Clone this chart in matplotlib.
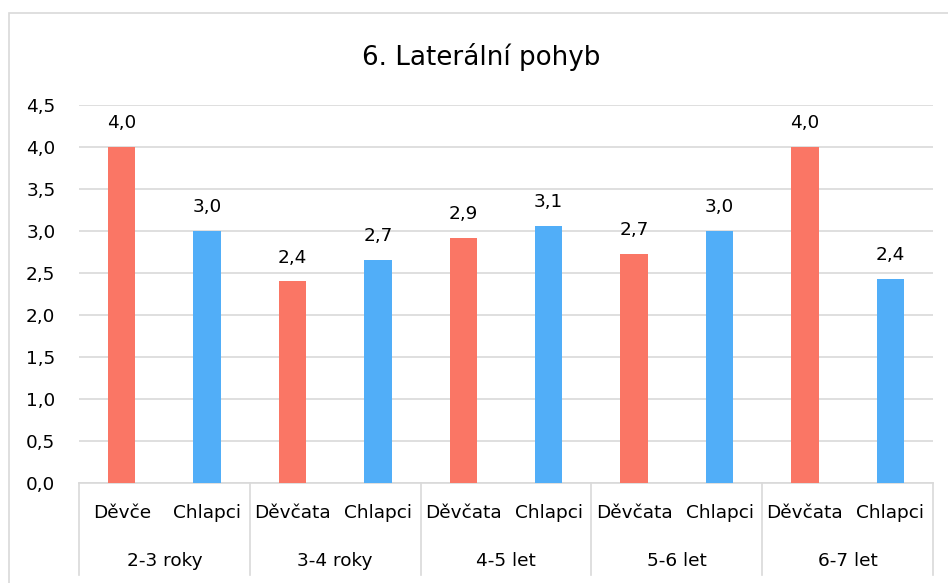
import matplotlib.pyplot as plt
import numpy as np
from matplotlib.patches import Rectangle
from matplotlib.ticker import FuncFormatter

plt.rcParams['font.family'] = ['DejaVu Sans']

# data
groups = ['2-3 roky', '3-4 roky', '4-5 let', '5-6 let', '6-7 let']
sub_labels = ['Děvče', 'Chlapci', 'Děvčata', 'Chlapci', 'Děvčata', 'Chlapci',
              'Děvčata', 'Chlapci', 'Děvčata', 'Chlapci']
values = [4.0, 3.0, 2.40, 2.66, 2.92, 3.06, 2.73, 3.0, 4.0, 2.43]
colors = ['#FA7665', '#51AEF8'] * 5

W, H = 948, 583
fig = plt.figure(figsize=(W / 100, H / 100), dpi=100)
ax = fig.add_axes([79 / W, 1 - 483 / H, (933 - 79) / W, (483 - 105) / H])

fs = 13.3
xs = np.arange(len(values))
ax.bar(xs, values, width=0.32, color=colors, zorder=3)
ax.set_xlim(-0.5, len(values) - 0.5)
ax.set_ylim(0, 4.5)
ax.set_yticks(np.arange(0, 4.51, 0.5))
ax.yaxis.set_major_formatter(FuncFormatter(lambda v, p: ('%.1f' % v).replace('.', ',')))
ax.tick_params(axis='y', length=0, pad=17, labelsize=fs)
ax.set_xticks([])
ax.grid(axis='y', color='#D9D9D9', linewidth=1.2, zorder=0)
for s in ['top', 'right', 'left']:
    ax.spines[s].set_visible(False)
ax.spines['bottom'].set_color('#D9D9D9')
ax.spines['bottom'].set_linewidth(1.2)

# value labels
for x, v in zip(xs, values):
    ax.annotate(('%.1f' % v).replace('.', ','), xy=(x, v), xytext=(0, 17),
                textcoords='offset points', ha='center', va='center', fontsize=fs)

# two-level category axis
trans = ax.get_xaxis_transform()
for x, lab in zip(xs, sub_labels):
    ax.text(x, -0.079, lab, transform=trans, ha='center', va='center', fontsize=fs)
for i, g in enumerate(groups):
    ax.text(2 * i + 0.5, -0.206, g, transform=trans, ha='center', va='center', fontsize=fs)
for b in np.arange(-0.5, len(values), 2):
    ax.plot([b, b], [0, -0.243], transform=trans, color='#D9D9D9', lw=1.2, clip_on=False)

fig.text(481 / W, 1 - 57 / H, '6. Laterální pohyb', ha='center', va='center', fontsize=18.8)

# outer chart border
fig.patches.append(Rectangle((9 / W, -0.1), 1.2, 1 - 13 / H + 0.1, transform=fig.transFigure,
                             fill=False, edgecolor='#D9D9D9', lw=1.2))

fig.savefig('out.png', dpi=100)
